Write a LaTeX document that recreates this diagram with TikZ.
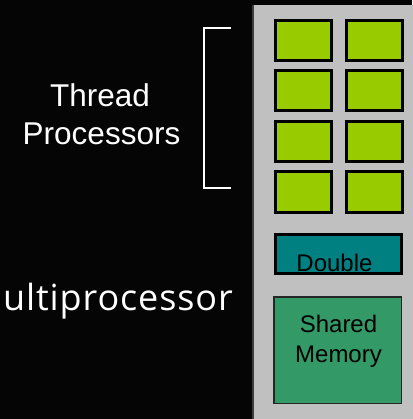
\documentclass[tikz,border=0pt]{standalone}
\usepackage{fontspec}
\setmainfont{Liberation Sans}
\newfontfamily\titlefont[LetterSpace=2.5]{Open Sans}
\definecolor{bgdark}{HTML}{050505}
\definecolor{panelgray}{HTML}{C0C0C0}
\definecolor{paneledge}{HTML}{3C3C3C}
\definecolor{coregreen}{HTML}{99CC00}
\definecolor{dblteal}{HTML}{008080}
\definecolor{shmemgreen}{HTML}{339966}
\tikzset{
  core/.style={draw=black, line width=3pt, fill=coregreen,
    minimum width=56pt, minimum height=40pt, inner sep=0pt},
  dblunit/.style={draw=black, line width=3pt, fill=dblteal,
    minimum width=126pt, minimum height=39pt, inner sep=0pt},
  shmem/.style={draw=black!85, line width=1.5pt, fill=shmemgreen,
    minimum width=127.5pt, minimum height=106.5pt, inner sep=0pt},
  whitetext/.style={text=white, inner sep=0pt, anchor=base,
    font=\fontsize{31.5}{38}\selectfont},
  boxtext/.style={text=black, inner sep=0pt, anchor=base,
    font=\fontsize{24}{30}\selectfont},
  bracketline/.style={draw=white, line width=2pt}
}
\begin{document}
\begin{tikzpicture}[x=1pt, y=-1pt]
\useasboundingbox (0,0) rectangle (412,419);
\fill[bgdark] (0,0) rectangle (412,419);

% multiprocessor panel
\fill[panelgray] (252,5) rectangle (413,420);
\draw[paneledge, line width=1.5pt] (252.75,5) -- (252.75,420);

% thread processor cores, two columns of four
\foreach \r/\y in {1/40.5, 2/91, 3/141.5, 4/192} {
  \node[core] (c\r a) at (303,\y) {};
  \node[core] (c\r b) at (374,\y) {};
}

% double precision unit
\node[dblunit] (dbl) at (338.5,254) {};
\node[boxtext] (dbltext) at (334.5,271) {Double};

% shared memory
\node[shmem] (smem) at (337.5,350) {};
\node[boxtext] (smem1) at (338.5,332) {Shared};
\node[boxtext] (smem2) at (338.5,362) {Memory};

% bracket grouping the cores
\coordinate (bt) at (231,28);
\coordinate (bb) at (231,188);
\draw[bracketline] (bt) -- (204,28) -- (204,188) -- (bb);

% labels
\node[whitetext] (lbl1) at (100,107) {Thread};
\node[whitetext] (lbl2) at (101.5,145) {Processors};
\node[text=white, inner sep=0pt, anchor=base east,
  font=\titlefont\fontsize{36}{40}\selectfont] (mp) at (233,310) {ultiprocessor};
\end{tikzpicture}
\end{document}
